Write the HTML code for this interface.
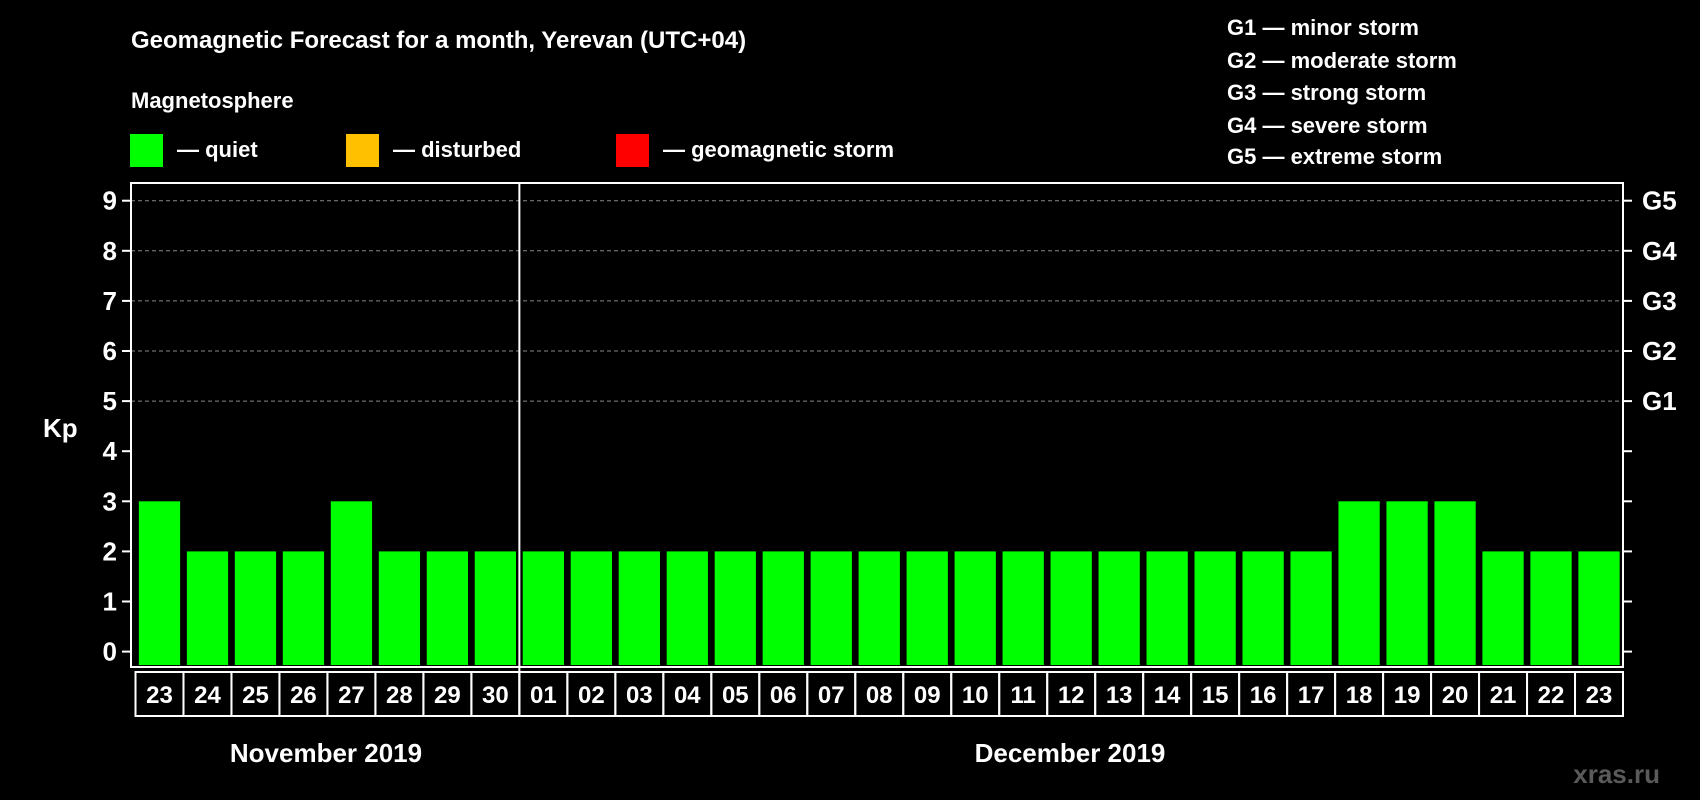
<!DOCTYPE html>
<html><head><meta charset="utf-8">
<style>
html,body{margin:0;padding:0;background:#000;}
svg{display:block;font-family:"Liberation Sans",Arial,sans-serif;font-weight:bold;}
</style></head>
<body>
<svg id="chart" width="1700" height="800" viewBox="0 0 1700 800" xmlns="http://www.w3.org/2000/svg">
<rect x="0" y="0" width="1700" height="800" fill="#000"/>
<text x="131" y="48" fill="#fff" font-size="24">Geomagnetic Forecast for a month, Yerevan (UTC+04)</text>
<text x="131" y="108" fill="#fff" font-size="22">Magnetosphere</text>
<g>
<rect x="130" y="134" width="33" height="33" fill="#00ff00"/>
<text x="177" y="157" fill="#fff" font-size="22">— quiet</text>
</g>
<g>
<rect x="346" y="134" width="33" height="33" fill="#ffc000"/>
<text x="393" y="157" fill="#fff" font-size="22">— disturbed</text>
</g>
<g>
<rect x="616" y="134" width="33" height="33" fill="#ff0000"/>
<text x="663" y="157" fill="#fff" font-size="22">— geomagnetic storm</text>
</g>
<g font-size="22" fill="#fff">
<text x="1227" y="35">G1 — minor storm</text>
<text x="1227" y="68">G2 — moderate storm</text>
<text x="1227" y="100">G3 — strong storm</text>
<text x="1227" y="133">G4 — severe storm</text>
<text x="1227" y="164">G5 — extreme storm</text>
</g>
<text x="43" y="437" fill="#fff" font-size="26">Kp</text>
<g id="plot"></g>
<text x="326" y="762" fill="#fff" font-size="26" text-anchor="middle">November 2019</text>
<text x="1070" y="762" fill="#fff" font-size="26" text-anchor="middle">December 2019</text>
<text x="1660" y="783" fill="#5a5a5a" font-size="26" text-anchor="end">xras.ru</text>
</svg>
<script>
const days = ["23","24","25","26","27","28","29","30","01","02","03","04","05","06","07","08","09","10","11","12","13","14","15","16","17","18","19","20","21","22","23"];
const kpValues = [3,2,2,2,3,2,2,2,2,2,2,2,2,2,2,2,2,2,2,2,2,2,2,2,2,3,3,3,2,2,2];
const yTicks = [0,1,2,3,4,5,6,7,8,9];
const gLabels = ["G1","G2","G3","G4","G5"];
const gLevels = [5,6,7,8,9];

const NS = "http://www.w3.org/2000/svg";
const plot = document.getElementById('plot');
const L = 131, R = 1623, T = 183, B = 667;
const slotL = 135.5, slotW = (R - slotL) / days.length;
const y0 = 651.6, yUnit = 50.1;
function yScale(v){ return y0 - v * yUnit; }
function xScale(i){ return slotL + i * slotW; }
function mk(tag, attrs){ const e = document.createElementNS(NS, tag); for (const k in attrs) e.setAttribute(k, attrs[k]); plot.appendChild(e); return e; }

yTicks.forEach(function(v){
  const y = yScale(v);
  if (v >= 5) {
    const g = mk('line', {x1:L, x2:R, y1:y, y2:y, stroke:'#888', 'stroke-dasharray':'4,3', 'stroke-width':1});
    
    
  }
  const t1 = mk('line', {x1:L-9, x2:L, y1:y, y2:y, stroke:'#fff', 'stroke-width':2});
  
  
  const t2 = mk('line', {x1:R, x2:R+9, y1:y, y2:y, stroke:'#fff', 'stroke-width':2});
  
  
  const lb = mk('text', {x:117, y:y+9, fill:'#fff', 'font-size':26, 'text-anchor':'end'});
  lb.textContent = v;
  
  
});
gLabels.forEach(function(g, i){
  const t = mk('text', {x:1642, y:yScale(gLevels[i])+9, fill:'#fff', 'font-size':26});
  t.textContent = g;
  
  
});
kpValues.forEach(function(v, i){
  const w = slotW * 0.86;
  const x = xScale(i) + (slotW - w) / 2;
  const color = v >= 5 ? '#ff0000' : (v >= 4 ? '#ffc000' : '#00ff00');
  const b = mk('rect', {x:x, y:yScale(v), width:w, height:(B - 2) - yScale(v), fill:color});
  
  
  const box = mk('rect', {x:xScale(i), y:B+5, width:slotW, height:44, fill:'none', stroke:'#fff', 'stroke-width':2});
  
  
  const t = mk('text', {x:xScale(i)+slotW/2, y:B+36, fill:'#fff', 'font-size':24, 'text-anchor':'middle'});
  t.textContent = days[i];
  
  
});
const frame = mk('rect', {x:L, y:T, width:R-L, height:B-T, fill:'none', stroke:'#fff', 'stroke-width':2});


const sepX = xScale(days.indexOf("01"));
const sep = mk('line', {x1:sepX, x2:sepX, y1:T, y2:B+49, stroke:'#fff', 'stroke-width':2});


</script>
</body></html>
